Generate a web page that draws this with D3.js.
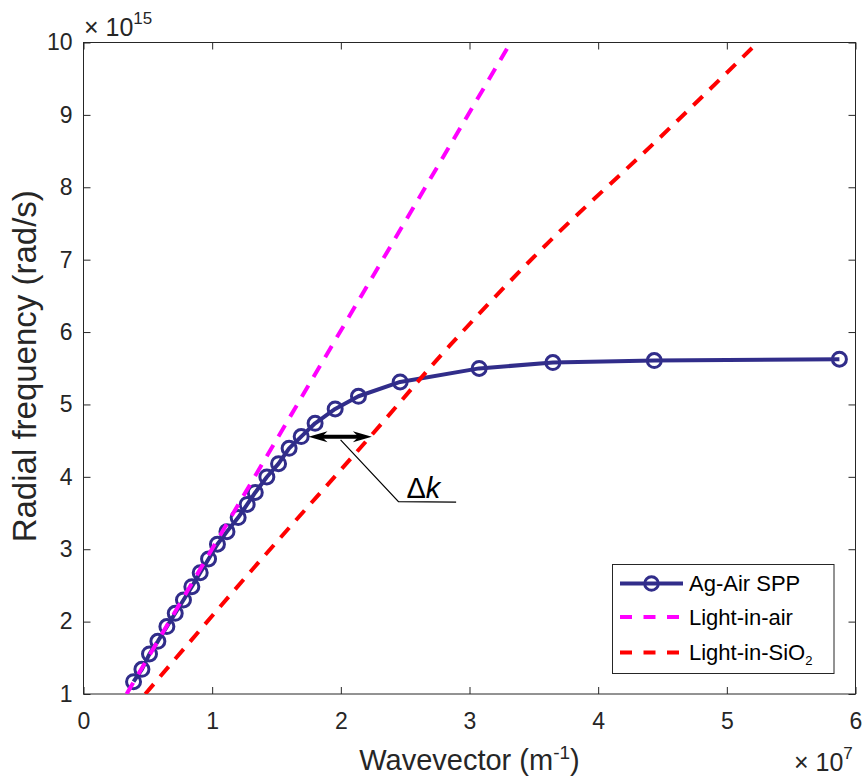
<!DOCTYPE html>
<html><head><meta charset="utf-8">
<script src="https://cdn.jsdelivr.net/npm/d3@7"></script>
<style>body{margin:0;background:#fff}text{font-family:Arial,"Liberation Sans",Helvetica,sans-serif}</style>
</head><body><svg id="c" width="864" height="782"></svg>
<script>
// ---- data ----
const xTicks = [0, 1, 2, 3, 4, 5, 6];
const yTicks = [1, 2, 3, 4, 5, 6, 7, 8, 9, 10];
const sppK = [0.389, 0.454, 0.513, 0.578, 0.648, 0.713, 0.777, 0.842, 0.907, 0.972, 1.041, 1.115, 1.202, 1.272, 1.335, 1.425, 1.516, 1.598, 1.692, 1.800, 1.956, 2.137, 2.461, 3.075, 3.648, 4.436, 5.875];
const sppW = [1.170, 1.341, 1.553, 1.728, 1.931, 2.115, 2.299, 2.483, 2.676, 2.866, 3.069, 3.243, 3.438, 3.618, 3.784, 3.998, 4.182, 4.394, 4.556, 4.740, 4.938, 5.113, 5.311, 5.498, 5.578, 5.606, 5.625];
const airK = [0.335, 3.32];
const airW = [1, 10];
const sio2K = [0.48, 1.321, 2.228, 2.851, 3.62, 4.44, 5.24];
const sio2W = [1, 2.737, 4.555, 5.822, 7.25, 8.62, 10];
const seriesNames = ["Ag-Air SPP", "Light-in-air", "Light-in-SiO"];
const arrowK = [1.749, 2.241];
const arrowW = 4.555;
const leaderK = [1.998, 2.448, 2.896];
const leaderW = [4.51, 3.658, 3.65];

// ---- setup ----
const svg = d3.select("#c");
const L = 83.5, R = 855.5, T = 42.5, B = 694;
const x = d3.scaleLinear().domain([0, 6]).range([L, R]);
const y = d3.scaleLinear().domain([1, 10]).range([B, T]);
const navy = "#312d8a", axisCol = "#262626";

svg.append("rect").attr("x", 0).attr("y", 0).attr("width", 864).attr("height", 782).attr("fill", "#fff");

const clip = svg.append("clipPath").attr("id", "pc");
clip.append("rect").attr("x", L).attr("y", T).attr("width", R - L).attr("height", B - T);

// axes
function styleAxis(g) {
  g.select(".domain").remove();
  g.selectAll(".tick line").attr("stroke", axisCol).attr("stroke-width", 1);
  g.selectAll("text").attr("fill", axisCol).style("font-size", "23px").attr("font-family", "Arial, 'Liberation Sans', sans-serif");
}
svg.append("g").attr("transform", `translate(0,${B})`)
  .call(d3.axisBottom(x).tickValues(xTicks).tickFormat(d3.format("d")).tickSize(-7).tickPadding(19))
  .call(styleAxis);
svg.append("g").attr("transform", `translate(0,${T})`)
  .call(d3.axisTop(x).tickValues(xTicks).tickFormat("").tickSize(-7))
  .call(styleAxis);
svg.append("g").attr("transform", `translate(${L},0)`)
  .call(d3.axisLeft(y).tickValues(yTicks).tickFormat(d3.format("d")).tickSize(-7).tickPadding(11))
  .call(styleAxis);
svg.append("g").attr("transform", `translate(${R},0)`)
  .call(d3.axisRight(y).tickValues(yTicks).tickFormat("").tickSize(-7))
  .call(styleAxis);
svg.append("rect").attr("x", L).attr("y", T).attr("width", R - L).attr("height", B - T)
  .attr("fill", "none").attr("stroke", axisCol).attr("stroke-width", 1);

// series
const plot = svg.append("g").attr("clip-path", "url(#pc)");
const line = d3.line().x(d => x(d[0])).y(d => y(d[1]));
const spp = sppK.map((k, i) => [k, sppW[i]]);
const air = airK.map((k, i) => [k, airW[i]]);
const sio2 = sio2K.map((k, i) => [k, sio2W[i]]);

plot.append("path").datum(spp).attr("d", line).attr("fill", "none").attr("stroke", navy).attr("stroke-width", 4).attr("stroke-linejoin", "round");
plot.selectAll("circle.m").data(spp).join("circle").attr("class", "m")
  .attr("cx", d => x(d[0])).attr("cy", d => y(d[1])).attr("r", 7)
  .attr("fill", "none").attr("stroke", navy).attr("stroke-width", 3);
plot.append("path").datum(air).attr("d", line).attr("fill", "none").attr("stroke", "#ff00ff").attr("stroke-width", 4).attr("stroke-dasharray", "13,10");
plot.append("path").datum(sio2).attr("d", d3.line().x(d => x(d[0])).y(d => y(d[1])).curve(d3.curveMonotoneY)).attr("fill", "none").attr("stroke", "#ff0000").attr("stroke-width", 4).attr("stroke-dasharray", "13,10");

// arrow annotation
const ax0 = x(arrowK[0]), ax1 = x(arrowK[1]), ay = y(arrowW);
const HL = 19, HW = 5.5;
svg.append("line").attr("x1", ax0 + 12).attr("x2", ax1 - 12).attr("y1", ay).attr("y2", ay).attr("stroke", "#000").attr("stroke-width", 4);
svg.append("polygon").attr("points", `${ax0},${ay} ${ax0 + HL},${ay - HW} ${ax0 + HL * 0.7},${ay} ${ax0 + HL},${ay + HW}`).attr("fill", "#000");
svg.append("polygon").attr("points", `${ax1},${ay} ${ax1 - HL},${ay - HW} ${ax1 - HL * 0.7},${ay} ${ax1 - HL},${ay + HW}`).attr("fill", "#000");
svg.append("path").datum(leaderK.map((k, i) => [k, leaderW[i]])).attr("d", line)
  .attr("fill", "none").attr("stroke", "#000").attr("stroke-width", 1.2);
const dk = svg.append("text").attr("x", x(leaderK[1]) + 8).attr("y", y(leaderW[1]) - 4).style("font-size", "29px").attr("fill", "#000");
dk.append("tspan").text("Δ");
dk.append("tspan").attr("font-style", "italic").text("k");

// axis labels
const xl = svg.append("text").attr("x", (L + R) / 2).attr("y", 770).attr("text-anchor", "middle").style("font-size", "29px").attr("fill", axisCol);
xl.append("tspan").text("Wavevector (m");
xl.append("tspan").attr("dy", -11).style("font-size", "19px").text("-1");
xl.append("tspan").attr("dy", 11).text(")");
svg.append("text").attr("transform", `translate(36,${(T + B) / 2 - 2}) rotate(-90)`).attr("text-anchor", "middle")
  .style("font-size", "33px").attr("fill", axisCol).text("Radial frequency (rad/s)");

// exponent labels
const e1 = svg.append("text").attr("x", 84).attr("y", 36).style("font-size", "25px").attr("fill", axisCol);
e1.append("tspan").text("× 10");
e1.append("tspan").attr("dy", -12).style("font-size", "17px").text("15");
const e2 = svg.append("text").attr("x", 794).attr("y", 771).style("font-size", "25px").attr("fill", axisCol);
e2.append("tspan").text("× 10");
e2.append("tspan").attr("dy", -12).style("font-size", "17px").text("7");

// legend
const lg = svg.append("g");
lg.append("rect").attr("x", 612.5).attr("y", 564.5).attr("width", 221.5).attr("height", 109).attr("fill", "#fff").attr("stroke", axisCol).attr("stroke-width", 1);
const rows = [583.5, 617, 652.5];
const lgStyles = [
  { c: navy, dash: null, marker: true },
  { c: "#ff00ff", dash: "12,11.5", marker: false },
  { c: "#ff0000", dash: "12,11.5", marker: false }
];
seriesNames.forEach((name, i) => {
  const s = lgStyles[i];
  const ln = lg.append("line").attr("x1", 620).attr("x2", 683).attr("y1", rows[i]).attr("y2", rows[i]).attr("stroke", s.c).attr("stroke-width", 4);
  if (s.dash) ln.attr("stroke-dasharray", s.dash);
  if (s.marker) lg.append("circle").attr("cx", 651.5).attr("cy", rows[i]).attr("r", 6.8).attr("fill", "none").attr("stroke", s.c).attr("stroke-width", 3);
  const t = lg.append("text").attr("x", 689).attr("y", rows[i]).attr("dy", "0.36em").style("font-size", "22px").attr("fill", "#000").text(name);
  if (i === 2) t.append("tspan").attr("dy", 5).style("font-size", "13px").text("2");
});
</script></body></html>
